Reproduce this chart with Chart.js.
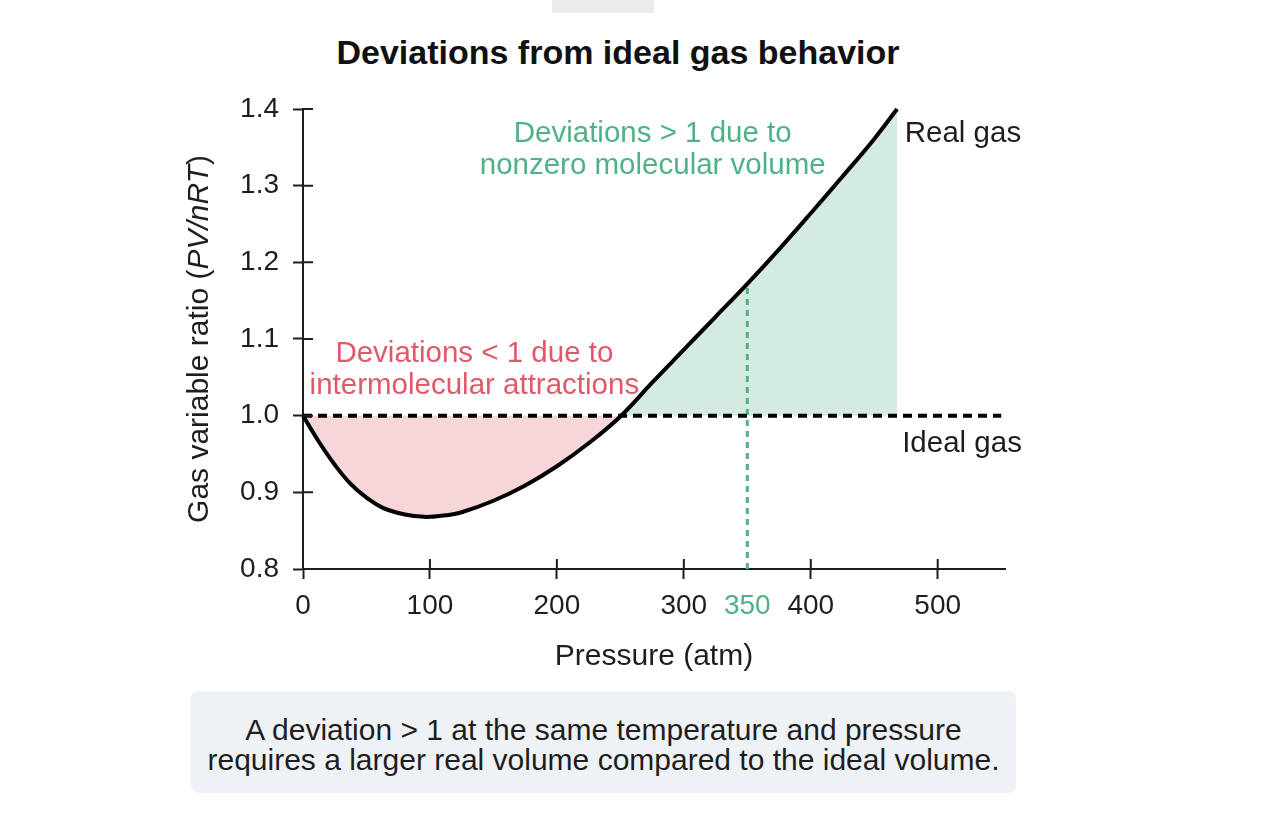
<!DOCTYPE html>
<html>
<head>
<meta charset="utf-8">
<title>Deviations from ideal gas behavior</title>
<script src="https://cdn.jsdelivr.net/npm/chart.js@4.4.1/dist/chart.umd.min.js"></script>
<style>
    html, body { margin: 0; padding: 0; background: #fff; }
    body { width: 1286px; height: 818px; position: relative; overflow: hidden; font-family: "Liberation Sans", Arial, sans-serif; }
    #tab { position: absolute; left: 552px; top: 0; width: 102px; height: 13px; background: #ebebeb; }
    #title { position: absolute; left: 0; top: 33px; width: 1236px; text-align: center; font: bold 34px "Liberation Sans", Arial, sans-serif; color: #111; }
    #chart { position: absolute; left: 0; top: 0; }
    #note { position: absolute; left: 191px; top: 691px; width: 825px; height: 102px; box-sizing: border-box; padding-top: 24px;
            background: #eff2f5; border-radius: 7px; text-align: center; font-size: 30px; line-height: 30px; color: #1e1e1e; }
</style>
</head>
<body>
<div id="tab"></div>
<div id="title">Deviations from ideal gas behavior</div>
<canvas id="chart" width="1286" height="690"></canvas>
<div id="note">A deviation &gt; 1 at the same temperature and pressure<br>requires a larger real volume compared to the ideal volume.</div>
<script>
// Real gas curve
const pressure = [0, 12.5, 25, 37.5, 50, 62.5, 75, 87.5, 100, 112.5, 125, 150, 175, 200, 225, 250, 275, 300, 325, 350, 375, 400, 425, 450, 468];
const ratio = [1.000, 0.966, 0.936, 0.911, 0.893, 0.880, 0.873, 0.869, 0.868, 0.870, 0.874, 0.889, 0.909, 0.934, 0.964, 0.999, 1.043, 1.086, 1.129, 1.172, 1.217, 1.264, 1.312, 1.361, 1.400];

// Ideal gas reference line
const idealPressure = [0, 550];
const idealRatio = [1, 1];

// Highlighted pressure
const markPressure = 350;

// Tick labels
const xTicks = [0, 100, 200, 300, 350, 400, 500];
const yTicks = [0.8, 0.9, 1.0, 1.1, 1.2, 1.3, 1.4];

const ink = '#1e1e1e';
const red = '#e0596a';
const green = '#4fb286';
const redFill = '#f6d6d9';
const greenFill = '#d3ebe1';
const font = '"Liberation Sans", Arial, sans-serif';

const realPoints = pressure.map((p, i) => ({ x: p, y: ratio[i] }));
const idealPoints = idealPressure.map((p, i) => ({ x: p, y: idealRatio[i] }));
const markPoints = [{ x: markPressure, y: yTicks[0] }, { x: markPressure, y: ratio[pressure.indexOf(markPressure)] }];

// Text placed in data coordinates
const labels = [
    { lines: ['Deviations < 1 due to', 'intermolecular attractions'], x: 135, y: 1.081, color: red, align: 'center' },
    { lines: ['Deviations > 1 due to', 'nonzero molecular volume'], x: 275.5, y: 1.367, color: green, align: 'center' },
    { lines: ['Real gas'], x: 474, y: 1.367, color: ink, align: 'left' },
    { lines: ['Ideal gas'], x: 472, y: 0.963, color: ink, align: 'left' }
];

// Ticks cross the axis lines and some text needs mixed styles
const extras = {
    id: 'extras',
    afterDatasetsDraw(chart) {
        const { ctx, chartArea } = chart;
        const xs = chart.scales.x, ys = chart.scales.y;
        ctx.save();
        ctx.strokeStyle = ink;
        ctx.lineWidth = 2;
        ctx.beginPath();
        xTicks.forEach(v => {
            if (v === markPressure) return;
            const px = xs.getPixelForValue(v);
            ctx.moveTo(px, chartArea.bottom);
            ctx.lineTo(px, chartArea.bottom - 10);
        });
        yTicks.forEach(v => {
            const py = ys.getPixelForValue(v);
            ctx.moveTo(chartArea.left, py);
            ctx.lineTo(chartArea.left + 10, py);
        });
        ctx.stroke();

        ctx.font = '29.5px ' + font;
        ctx.textBaseline = 'middle';
        labels.forEach(l => {
            ctx.fillStyle = l.color;
            ctx.textAlign = l.align;
            const px = xs.getPixelForValue(l.x);
            const py = ys.getPixelForValue(l.y);
            l.lines.forEach((t, i) => ctx.fillText(t, px, py + i * 32));
        });

        // y axis title with italic formula
        const parts = [
            ['Gas variable ratio (', 'normal'],
            ['PV/nRT', 'italic'],
            [')', 'normal']
        ];
        ctx.translate(200, (chartArea.top + chartArea.bottom) / 2);
        ctx.rotate(-Math.PI / 2);
        ctx.fillStyle = ink;
        ctx.textAlign = 'left';
        let total = 0;
        parts.forEach(p => { ctx.font = p[1] + ' 30px ' + font; total += ctx.measureText(p[0]).width; });
        let cx = -total / 2;
        parts.forEach(p => {
            ctx.font = p[1] + ' 30px ' + font;
            ctx.fillText(p[0], cx, 0);
            cx += ctx.measureText(p[0]).width;
        });
        ctx.restore();
    }
};

new Chart(document.getElementById('chart'), {
    type: 'line',
    data: {
        datasets: [
            {
                label: 'Real gas',
                data: realPoints,
                borderColor: '#000',
                borderWidth: 4,
                pointRadius: 0,
                tension: 0.4,
                fill: { target: { value: 1 }, above: greenFill, below: redFill },
                clip: 6
            },
            {
                label: 'Ideal gas',
                data: idealPoints,
                borderColor: '#000',
                borderWidth: 4,
                borderDash: [9, 6],
                pointRadius: 0,
                fill: false
            },
            {
                label: '350 atm',
                data: markPoints,
                borderColor: green,
                borderWidth: 3,
                borderDash: [6, 5],
                pointRadius: 0,
                fill: false
            }
        ]
    },
    options: {
        responsive: false,
        animation: false,
        devicePixelRatio: 1,
        layout: { padding: { top: 109, right: 281, bottom: 15, left: 0 } },
        plugins: {
            legend: { display: false },
            tooltip: { enabled: false },
            filler: { drawTime: 'beforeDatasetsDraw' },
            title: { display: false }
        },
        scales: {
            x: {
                type: 'linear',
                min: 0,
                max: 553,
                afterBuildTicks: s => { s.ticks = xTicks.map(v => ({ value: v })); },
                afterFit: s => { s.height = 106; },
                ticks: {
                    autoSkip: false,
                    maxRotation: 0,
                    padding: 10,
                    font: { family: font, size: 28 },
                    color: c => c.tick && c.tick.value === markPressure ? green : ink,
                    callback: v => String(v)
                },
                grid: {
                    drawOnChartArea: false,
                    drawTicks: true,
                    tickLength: 10,
                    tickWidth: 2,
                    tickColor: c => c.tick && c.tick.value === markPressure ? 'rgba(0,0,0,0)' : ink
                },
                border: { color: ink, width: 2 },
                title: {
                    display: true,
                    text: 'Pressure (atm)',
                    color: ink,
                    font: { family: font, size: 30 },
                    padding: 0
                }
            },
            y: {
                min: 0.8,
                max: 1.4,
                afterBuildTicks: s => { s.ticks = yTicks.map(v => ({ value: v })); },
                afterFit: s => { s.width = 303; },
                ticks: {
                    padding: 14,
                    font: { family: font, size: 28 },
                    color: ink,
                    callback: v => v.toFixed(1)
                },
                grid: {
                    drawOnChartArea: false,
                    drawTicks: true,
                    tickLength: 10,
                    tickWidth: 2,
                    tickColor: ink
                },
                border: { color: ink, width: 2 }
            }
        }
    },
    plugins: [extras]
});
</script>
</body>
</html>
